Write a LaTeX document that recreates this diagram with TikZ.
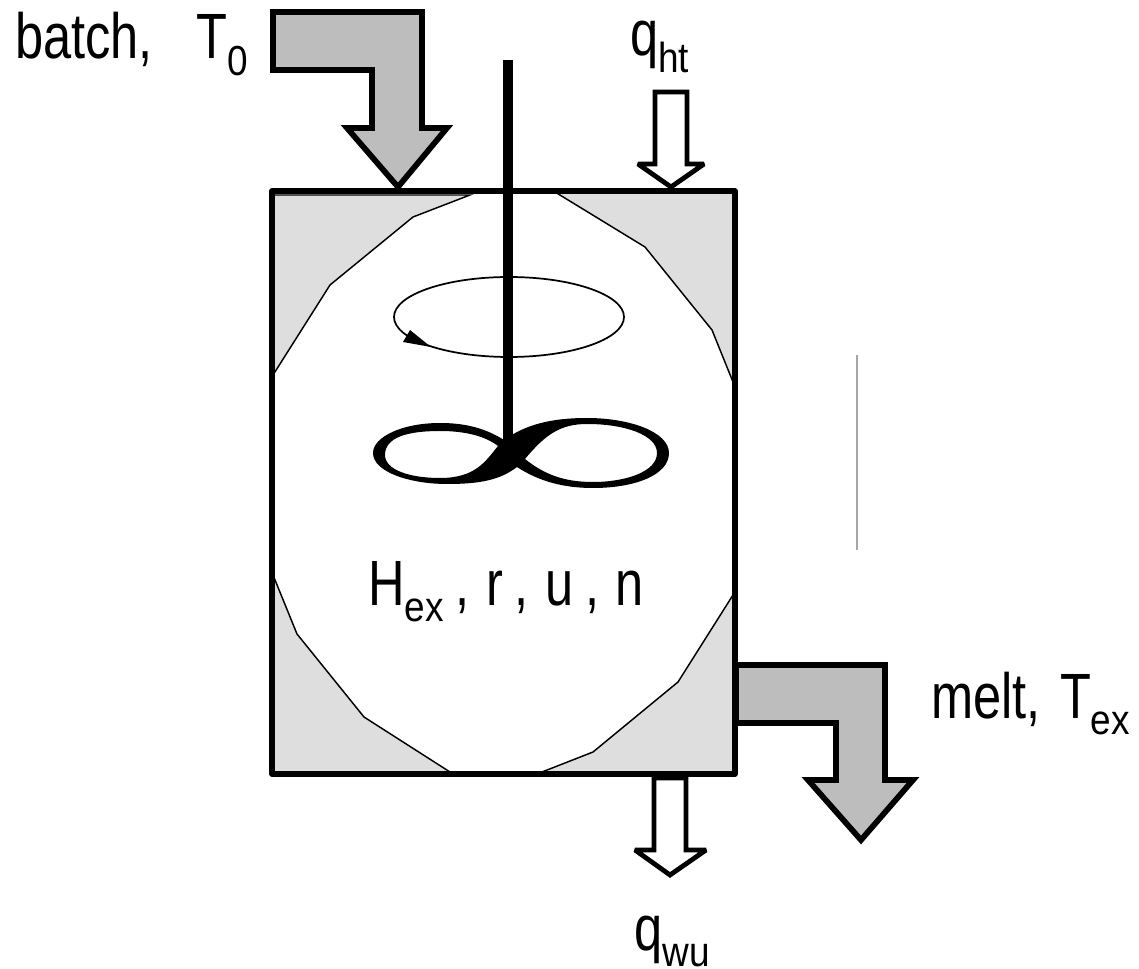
\documentclass[tikz,border=0pt]{standalone}
\usepackage{fontspec}
\setmainfont{Liberation Sans}
\newfontfamily\labelfont[FakeStretch=0.79]{Liberation Sans}
\newfontfamily\subfont[FakeStretch=0.88]{Liberation Sans}
\usetikzlibrary{positioning, arrows.meta}
\newcommand{\subtext}[1]{\raisebox{-12.5pt}{\subfont\fontsize{31.5}{32}\selectfont #1}}

\begin{document}
\begin{tikzpicture}[
    x=0.75pt, y=-0.75pt,
    % --- Styles ---
    label/.style={
        anchor=base west,
        inner sep=0pt,
        font=\labelfont\fontsize{48}{52}\selectfont
    },
    corner/.style={
        draw=black,
        fill=black!13,
        line width=1.1pt
    },
    flow/.style={
        draw=black,
        fill=black!26,
        line width=4.3pt,
        miter limit=3
    },
    heat/.style={
        draw=black,
        fill=white,
        line width=3.6pt,
        miter limit=3
    }
]
\useasboundingbox (0,0) rectangle (1139,969);

% --- Corners of the vessel ---
\path[corner] (272,195) -- (470,195) -- (413,217) -- (330,285) -- (273,375) -- cycle;
\path[corner] (555,192) -- (645,247) -- (712,330) -- (733,382) -- (733,192) -- cycle;
\path[corner] (273,575) -- (297,634) -- (364,717) -- (450,772) -- (273,772) -- cycle;
\path[corner] (542,772) -- (593,752) -- (678,682) -- (733,595) -- (733,772) -- cycle;

% --- Vessel ---
\draw[line width=3.9pt, line join=round] (272,191) rectangle (735,774);

% --- Flows ---
\path[flow] (273,12) -- (422,12) -- (422,128) -- (447,128) -- (398,187)
    -- (347,128) -- (372,128) -- (372,70) -- (273,70) -- cycle;
\path[flow] (736,665) -- (885,665) -- (885,780) -- (913,780) -- (861,840)
    -- (808,780) -- (836,780) -- (836,723) -- (736,723) -- cycle;
\path[heat] (655,92) -- (687,92) -- (687,164) -- (704,164) -- (671,187)
    -- (638,164) -- (655,164) -- cycle;
\path[heat] (654,778) -- (686,778) -- (686,850) -- (706,850) -- (670,875)
    -- (635,850) -- (654,850) -- cycle;

% --- Stirrer ---
\draw[line width=1.3pt] (509,317) ellipse [x radius=115, y radius=40];
\fill (403,342) -- (410,330) -- (431,347) -- cycle;
\draw[line width=6.8pt] (508,60) -- (508,450);
\fill[even odd rule]
    (504,440) .. controls (485,428) and (465,423) .. (440,423)
    .. controls (402,423) and (373,437) .. (373,453)
    .. controls (373,472) and (410,484) .. (447,484)
    .. controls (480,484) and (500,480) .. (517,467)
    .. controls (540,482) and (565,488) .. (593,488)
    .. controls (635,488) and (669,475) .. (669,453)
    .. controls (669,432) and (630,418) .. (587,418)
    .. controls (550,418) and (525,425) .. (504,440) -- cycle
    (385,455) .. controls (385,437) and (408,431) .. (440,431)
    .. controls (465,431) and (485,436) .. (498,446)
    .. controls (485,462) and (475,478) .. (440,478)
    .. controls (410,478) and (385,470) .. (385,455) -- cycle
    (525,459) .. controls (545,435) and (560,424) .. (587,424)
    .. controls (625,424) and (657,435) .. (657,453)
    .. controls (657,472) and (625,482) .. (593,482)
    .. controls (565,482) and (545,475) .. (525,459) -- cycle;

% --- Scale line ---
\draw[black!35, line width=0.9pt] (857,355) -- (857,550);

% --- Labels ---
\node[label] (batch) at (15,59) {batch,\hspace{0.68em}T\subtext{0}};
\node[label] (qht) at (630,56) {q\subtext{ht}};
\node[label] (state) at (368,605) {H\subtext{ex}\hspace{0.19em},\hspace{0.25em}r\hspace{0.19em},\hspace{0.25em}u\hspace{0.19em},\hspace{0.25em}n};
\node[label] (melt) at (931,718) {melt,\hspace{0.3em}T\subtext{ex}};
\node[label] (qwu) at (634,950) {q\subtext{wu}};
\end{tikzpicture}
\end{document}
